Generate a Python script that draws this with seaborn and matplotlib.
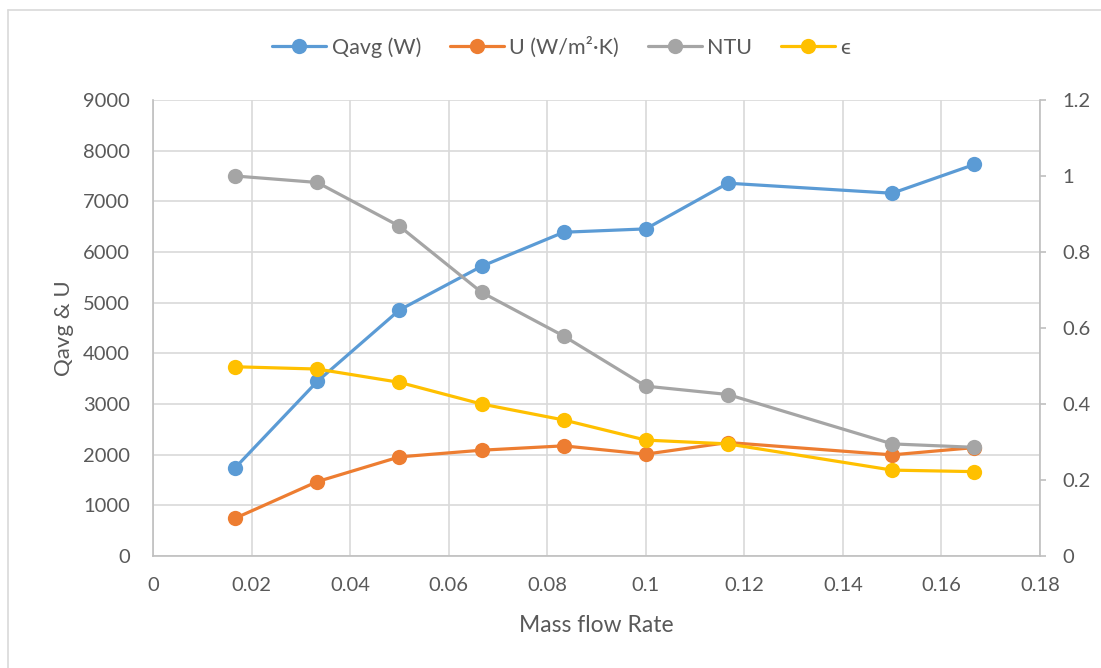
import numpy as np
import pandas as pd
import matplotlib
matplotlib.use("Agg")
import matplotlib.pyplot as plt
from matplotlib.lines import Line2D
from matplotlib.ticker import FuncFormatter, MultipleLocator
import seaborn as sns

# ---- data ----
mass_flow = [1/60, 2/60, 3/60, 4/60, 5/60, 6/60, 7/60, 9/60, 10/60]
q_avg = [1740, 3445, 4855, 5717, 6390, 6456, 7358, 7160, 7727]
u_val = [745, 1468, 1956, 2088, 2174, 2010, 2240, 1996, 2140]
ntu = [1.000, 0.983, 0.868, 0.694, 0.579, 0.447, 0.425, 0.295, 0.286]
eff = [0.498, 0.492, 0.457, 0.400, 0.358, 0.305, 0.295, 0.226, 0.222]
labels = ["Qavg (W)", "U (W/m²·K)", "NTU", "ϵ"]
colors = ["#5B9BD5", "#ED7D31", "#A5A5A5", "#FFC000"]

df = pd.DataFrame({"m": mass_flow, "q": q_avg, "u": u_val, "ntu": ntu, "eff": eff})

sns.set_theme(style="white")
plt.rcParams["font.family"] = ["Lato", "DejaVu Sans"]

TXT = "#595959"
GRID = "#D9D9D9"
AX = "#BFBFBF"

fig = plt.figure(figsize=(11.01, 6.68), dpi=100)
ax = fig.add_axes([153/1101, 1-556/668, (1040-153)/1101, (556-100)/668])
ax2 = ax.twinx()

lw = 2.3
ms = 11
kw = dict(marker="o", markersize=ms, markeredgewidth=0, linewidth=lw)
sns.lineplot(data=df, x="m", y="q", ax=ax, color=colors[0], label=labels[0], legend=False, **kw)
sns.lineplot(data=df, x="m", y="u", ax=ax, color=colors[1], label=labels[1], legend=False, **kw)
sns.lineplot(data=df, x="m", y="ntu", ax=ax2, color=colors[2], label=labels[2], legend=False, **kw)
sns.lineplot(data=df, x="m", y="eff", ax=ax2, color=colors[3], label=labels[3], legend=False, **kw)

ax.set_xlim(0, 0.18)
ax.set_ylim(0, 9000)
ax2.set_ylim(0, 1.2)
ax.xaxis.set_major_locator(MultipleLocator(0.02))
ax.yaxis.set_major_locator(MultipleLocator(1000))
ax2.yaxis.set_major_locator(MultipleLocator(0.2))
fmt = FuncFormatter(lambda v, p: f"{round(v, 6):g}")
ax.xaxis.set_major_formatter(fmt)
ax2.yaxis.set_major_formatter(fmt)

ax.grid(True, color=GRID, linewidth=1.2)
ax.set_axisbelow(True)

for a in (ax, ax2):
    for s in a.spines.values():
        s.set_visible(False)
for a, side in ((ax, "left"), (ax, "bottom"), (ax2, "right")):
    a.spines[side].set_visible(True)
    a.spines[side].set_color(AX)
    a.spines[side].set_linewidth(1.2)

ax.tick_params(axis="x", length=0, pad=15, labelsize=14.5, labelcolor=TXT)
ax.tick_params(axis="y", length=0, pad=16.5, labelsize=14.5, labelcolor=TXT)
ax2.tick_params(axis="y", length=4, width=1.2, color=AX, pad=12, labelsize=14.5, labelcolor=TXT)

ax.set_xlabel("Mass flow Rate", fontsize=16.5, color=TXT)
ax.set_ylabel("Qavg & U", fontsize=16, color=TXT)
ax.xaxis.set_label_coords(0.5, (556-615)/456)
ax.yaxis.set_label_coords((74-153)/887, 0.5)
ax2.set_ylabel("")

handles = [Line2D([0], [0], color=c, linewidth=lw, marker="o", markersize=ms,
                  markeredgewidth=0) for c in colors]
fig.legend(handles, labels, loc="center", bbox_to_anchor=(0.51, 1-47/668), ncol=4,
           frameon=False, fontsize=15.5, labelcolor=TXT, handlelength=2.5,
           handletextpad=0.25, columnspacing=1.35)

# chart-area border (left & top)
fig.add_artist(Line2D([8/1101, 8/1101], [0, 1-10/668], color="#D9D9D9", linewidth=1.2,
                      transform=fig.transFigure))
fig.add_artist(Line2D([8/1101, 1], [1-10/668, 1-10/668], color="#D9D9D9", linewidth=1.2,
                      transform=fig.transFigure))

fig.savefig("out.png", dpi=100, facecolor="white")
